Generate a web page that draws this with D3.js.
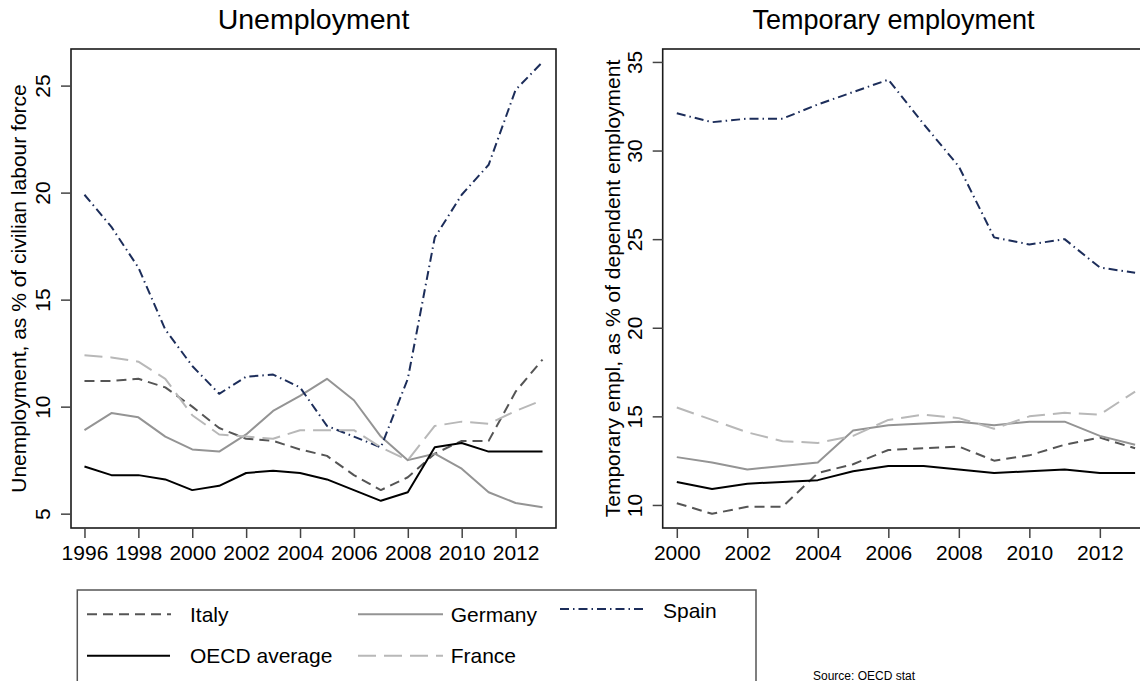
<!DOCTYPE html>
<html>
<head>
<meta charset="utf-8">
<script src="https://cdn.jsdelivr.net/npm/d3@7"></script>
<style>
  html, body { margin: 0; padding: 0; background: #fff; }
  svg { display: block; font-family: "Liberation Sans", Arial, Helvetica, sans-serif; }
</style>
</head>
<body>
<svg id="chart" width="1140" height="681"></svg>
<script>
// ---------- DATA ----------
const unempYears = [1996,1997,1998,1999,2000,2001,2002,2003,2004,2005,2006,2007,2008,2009,2010,2011,2012,2013];
const unempItaly   = [11.2,11.2,11.3,10.9,10.0,9.0,8.5,8.4,8.0,7.7,6.8,6.1,6.7,7.8,8.4,8.4,10.7,12.2];
const unempGermany = [8.9,9.7,9.5,8.6,8.0,7.9,8.7,9.8,10.5,11.3,10.3,8.6,7.5,7.8,7.1,6.0,5.5,5.3];
const unempSpain   = [19.9,18.4,16.5,13.6,11.9,10.6,11.4,11.5,10.9,9.1,8.6,8.1,11.3,17.9,19.9,21.3,24.8,26.1];
const unempOECD    = [7.2,6.8,6.8,6.6,6.1,6.3,6.9,7.0,6.9,6.6,6.1,5.6,6.0,8.1,8.3,7.9,7.9,7.9];
const unempFrance  = [12.4,12.3,12.1,11.3,9.6,8.7,8.6,8.5,8.9,8.9,8.9,8.1,7.5,9.1,9.3,9.2,9.8,10.3];

const tempYears = [2000,2001,2002,2003,2004,2005,2006,2007,2008,2009,2010,2011,2012,2013];
const tempItaly   = [10.1,9.5,9.9,9.9,11.8,12.3,13.1,13.2,13.3,12.5,12.8,13.4,13.8,13.2];
const tempGermany = [12.7,12.4,12.0,12.2,12.4,14.2,14.5,14.6,14.7,14.5,14.7,14.7,13.9,13.4];
const tempSpain   = [32.1,31.6,31.8,31.8,32.6,33.3,34.0,31.5,29.1,25.1,24.7,25.0,23.4,23.1];
const tempOECD    = [11.3,10.9,11.2,11.3,11.4,11.9,12.2,12.2,12.0,11.8,11.9,12.0,11.8,11.8];
const tempFrance  = [15.5,14.8,14.1,13.6,13.5,13.9,14.8,15.1,14.9,14.3,15.0,15.2,15.1,16.4];

const seriesNames = ["Italy","Germany","Spain","OECD average","France"];
const unempTicksY = [5,10,15,20,25];
const unempTicksX = [1996,1998,2000,2002,2004,2006,2008,2010,2012];
const tempTicksY = [10,15,20,25,30,35];
const tempTicksX = [2000,2002,2004,2006,2008,2010,2012];

// ---------- STYLES ----------
const styles = {
  "Italy":        {color: "#555555", dash: "10,6",        width: 2},
  "Germany":      {color: "#949494", dash: null,          width: 2},
  "Spain":        {color: "#1c2d5a", dash: "9,4,1.5,4",   width: 2},
  "OECD average": {color: "#000000", dash: null,          width: 2},
  "France":       {color: "#b8b8b8", dash: "18,8",        width: 2}
};

const svg = d3.select("#chart");
const FONT = 21;

function panel(opts) {
  const {x0, x1, y0, y1, xDomain, yDomain, years, series, xTicks, yTicks, title, titleX, titleSize, ylabel, ylabelX} = opts;
  const x = d3.scaleLinear().domain(xDomain).range([x0, x1]);
  const y = d3.scaleLinear().domain(yDomain).range([y1, y0]);
  const g = svg.append("g");

  // lines
  const line = d3.line().x(d => x(d[0])).y(d => y(d[1]));
  seriesNames.forEach((name, i) => {
    const s = styles[name];
    g.append("path")
      .datum(years.map((yr, j) => [yr, series[i][j]]))
      .attr("d", line)
      .attr("fill", "none")
      .attr("stroke", s.color)
      .attr("stroke-width", s.width)
      .attr("stroke-dasharray", s.dash)
      .attr("stroke-linejoin", "round");
  });

  // frame
  g.append("rect")
    .attr("x", x0).attr("y", y0)
    .attr("width", x1 - x0).attr("height", y1 - y0)
    .attr("fill", "none").attr("stroke", "#1a1a1a").attr("stroke-width", 1.6);

  // x axis
  const xa = g.append("g").attr("transform", `translate(0,${y1})`)
    .call(d3.axisBottom(x).tickValues(xTicks).tickFormat(d3.format("d")).tickSize(10).tickSizeOuter(0));
  xa.select(".domain").remove();
  xa.selectAll("line").attr("stroke", "#444").attr("stroke-width", 1.5);
  xa.selectAll("text").attr("y", 32).attr("dy", 0)
    .attr("font-size", FONT).attr("fill", "#000").attr("font-family", "Liberation Sans, Arial, sans-serif");

  // y axis
  const ya = g.append("g").attr("transform", `translate(${x0},0)`)
    .call(d3.axisLeft(y).tickValues(yTicks).tickFormat(d3.format("d")).tickSize(10).tickSizeOuter(0));
  ya.select(".domain").remove();
  ya.selectAll("line").attr("stroke", "#444").attr("stroke-width", 1.5);
  ya.selectAll("text")
    .attr("x", null).attr("dy", null)
    .attr("transform", "translate(-21,0) rotate(-90)")
    .attr("text-anchor", "middle")
    .attr("font-size", FONT).attr("fill", "#000").attr("font-family", "Liberation Sans, Arial, sans-serif");

  // y label
  g.append("text")
    .attr("transform", `translate(${ylabelX},${(y0 + y1) / 2}) rotate(-90)`)
    .attr("text-anchor", "middle")
    .attr("font-size", FONT)
    .text(ylabel);

  // title
  g.append("text")
    .attr("x", titleX).attr("y", 29)
    .attr("text-anchor", "middle")
    .attr("font-size", titleSize)
    .text(title);
}

panel({
  x0: 71, x1: 556, y0: 49, y1: 528,
  xDomain: [1995.5, 2013.5], yDomain: [4.33, 26.71],
  years: unempYears,
  series: [unempItaly, unempGermany, unempSpain, unempOECD, unempFrance],
  xTicks: unempTicksX, yTicks: unempTicksY,
  title: "Unemployment", titleX: 313.5, titleSize: 28.5,
  ylabel: "Unemployment, as % of civilian labour force", ylabelX: 26
});

panel({
  x0: 662.7, x1: 1149.2, y0: 49, y1: 528,
  xDomain: [1999.6, 2013.4], yDomain: [8.70, 35.73],
  years: tempYears,
  series: [tempItaly, tempGermany, tempSpain, tempOECD, tempFrance],
  xTicks: tempTicksX, yTicks: tempTicksY,
  title: "Temporary employment", titleX: 893.5, titleSize: 27,
  ylabel: "Temporary empl, as % of dependent employment", ylabelX: 619.5
});

// ---------- LEGEND ----------
const lg = svg.append("g");
lg.append("rect")
  .attr("x", 77.3).attr("y", 590).attr("width", 756 - 77.3).attr("height", 140)
  .attr("fill", "#fff").attr("stroke", "#555").attr("stroke-width", 1.5);

const legendPos = {
  "Italy":        {lx0: 87,  lx1: 171, ly: 614.3, tx: 190,   ty: 622.3},
  "Germany":      {lx0: 358, lx1: 443, ly: 614.3, tx: 450.7, ty: 622.3},
  "Spain":        {lx0: 560, lx1: 643, ly: 609,   tx: 663,   ty: 617.7},
  "OECD average": {lx0: 87,  lx1: 170, ly: 655.7, tx: 190,   ty: 663.3},
  "France":       {lx0: 358, lx1: 443, ly: 655.7, tx: 450.7, ty: 663.3}
};
seriesNames.forEach(name => {
  const s = styles[name], p = legendPos[name];
  lg.append("line")
    .attr("x1", p.lx0).attr("x2", p.lx1).attr("y1", p.ly).attr("y2", p.ly)
    .attr("stroke", s.color).attr("stroke-width", s.width)
    .attr("stroke-dasharray", s.dash);
  lg.append("text")
    .attr("x", p.tx).attr("y", p.ty)
    .attr("font-size", FONT)
    .text(name);
});

// source note
svg.append("text")
  .attr("x", 813).attr("y", 679.5)
  .attr("font-size", 12)
  .text("Source: OECD stat");
</script>
</body>
</html>
